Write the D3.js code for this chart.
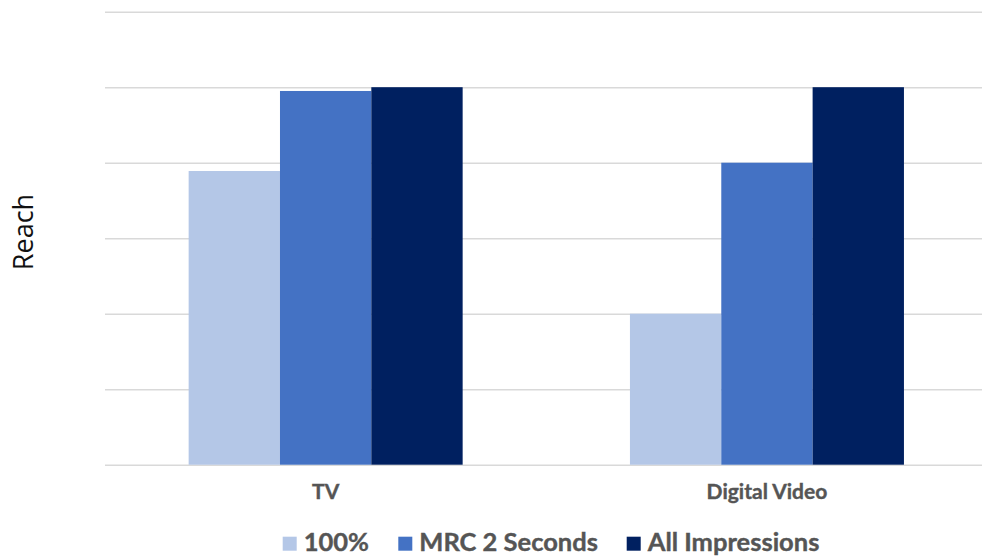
<!DOCTYPE html>
<html>
<head>
<meta charset="utf-8">
<script src="https://cdn.jsdelivr.net/npm/d3@7"></script>
<style>
  html, body { margin: 0; padding: 0; background: #ffffff; }
  svg { display: block; }
</style>
</head>
<body>
<div id="chart"></div>
<script>
// Reach by channel and viewability standard
const categories = ["TV", "Digital Video"];
const seriesNames = ["100%", "MRC 2 Seconds", "All Impressions"];
const seriesColors = ["#B4C7E7", "#4472C4", "#002060"];
const valuesFull = [3.89, 2.0];        // 100%
const valuesMRC = [4.95, 4.0];         // MRC 2 Seconds
const valuesAll = [5.0, 5.0];          // All Impressions
const yTicks = [0, 1, 2, 3, 4, 5, 6];

const W = 982, H = 558;
const plot = { left: 105, right: 987.6, top: 11.7, bottom: 464.7 };

const svg = d3.select("#chart").append("svg")
  .attr("width", W).attr("height", H);

const seriesValues = [valuesFull, valuesMRC, valuesAll];
const rows = categories.map((c, i) => ({
  category: c,
  values: seriesNames.map((s, j) => ({ series: s, color: seriesColors[j], value: seriesValues[j][i] }))
}));

const x0 = d3.scaleBand().domain(categories).range([plot.left, plot.right]).padding(0);
const gap = x0.step() - 274;
const x1 = d3.scaleBand().domain(seriesNames)
  .range([gap / 2, x0.step() - gap / 2]).padding(0);
const y = d3.scaleLinear().domain([0, 6]).range([plot.bottom, plot.top]);

// horizontal gridlines
const grid = svg.append("g")
  .attr("transform", `translate(${plot.left},0)`)
  .call(d3.axisLeft(y).tickValues(yTicks).tickSize(-(plot.right - plot.left)).tickFormat(""));
grid.select(".domain").remove();
grid.selectAll(".tick line").attr("stroke", "#d9d9d9").attr("stroke-width", 1.4);

// bars
const groups = svg.append("g").selectAll("g")
  .data(rows).join("g")
  .attr("transform", d => `translate(${x0(d.category)},0)`);

groups.selectAll("rect")
  .data(d => d.values).join("rect")
  .attr("x", d => x1(d.series))
  .attr("width", x1.bandwidth())
  .attr("y", d => y(d.value))
  .attr("height", d => y(0) - y(d.value))
  .attr("fill", d => d.color);

// category axis labels
const xAxis = svg.append("g")
  .attr("transform", `translate(0,${plot.bottom})`)
  .call(d3.axisBottom(x0).tickSize(0).tickPadding(19));
xAxis.select(".domain").remove();
xAxis.selectAll("text")
  .attr("font-family", "Lato, 'Open Sans', sans-serif")
  .attr("font-weight", "bold")
  .attr("font-size", 21)
  .attr("fill", "#555555")
  .attr("stroke", "#555555")
  .attr("stroke-width", 0.4);

// y axis title
svg.append("text")
  .attr("transform", "translate(33,232) rotate(-90)")
  .attr("text-anchor", "middle")
  .attr("font-family", "'Open Sans', sans-serif")
  .attr("font-size", 27)
  .attr("fill", "#111")
  .text("Reach");

// legend
const legendX = [282.7, 398.3, 626.7];
const legend = svg.append("g").selectAll("g")
  .data(seriesNames).join("g")
  .attr("transform", (d, i) => `translate(${legendX[i]},536.7)`);
legend.append("rect")
  .attr("width", 14).attr("height", 14)
  .attr("fill", (d, i) => seriesColors[i]);
legend.append("text")
  .attr("x", 21).attr("y", 14.5)
  .attr("font-family", "Lato, 'Open Sans', sans-serif")
  .attr("font-weight", "bold")
  .attr("font-size", 25.5)
  .attr("fill", "#555555")
  .attr("stroke", "#555555")
  .attr("stroke-width", 0.4)
  .text(d => d);
</script>
</body>
</html>
